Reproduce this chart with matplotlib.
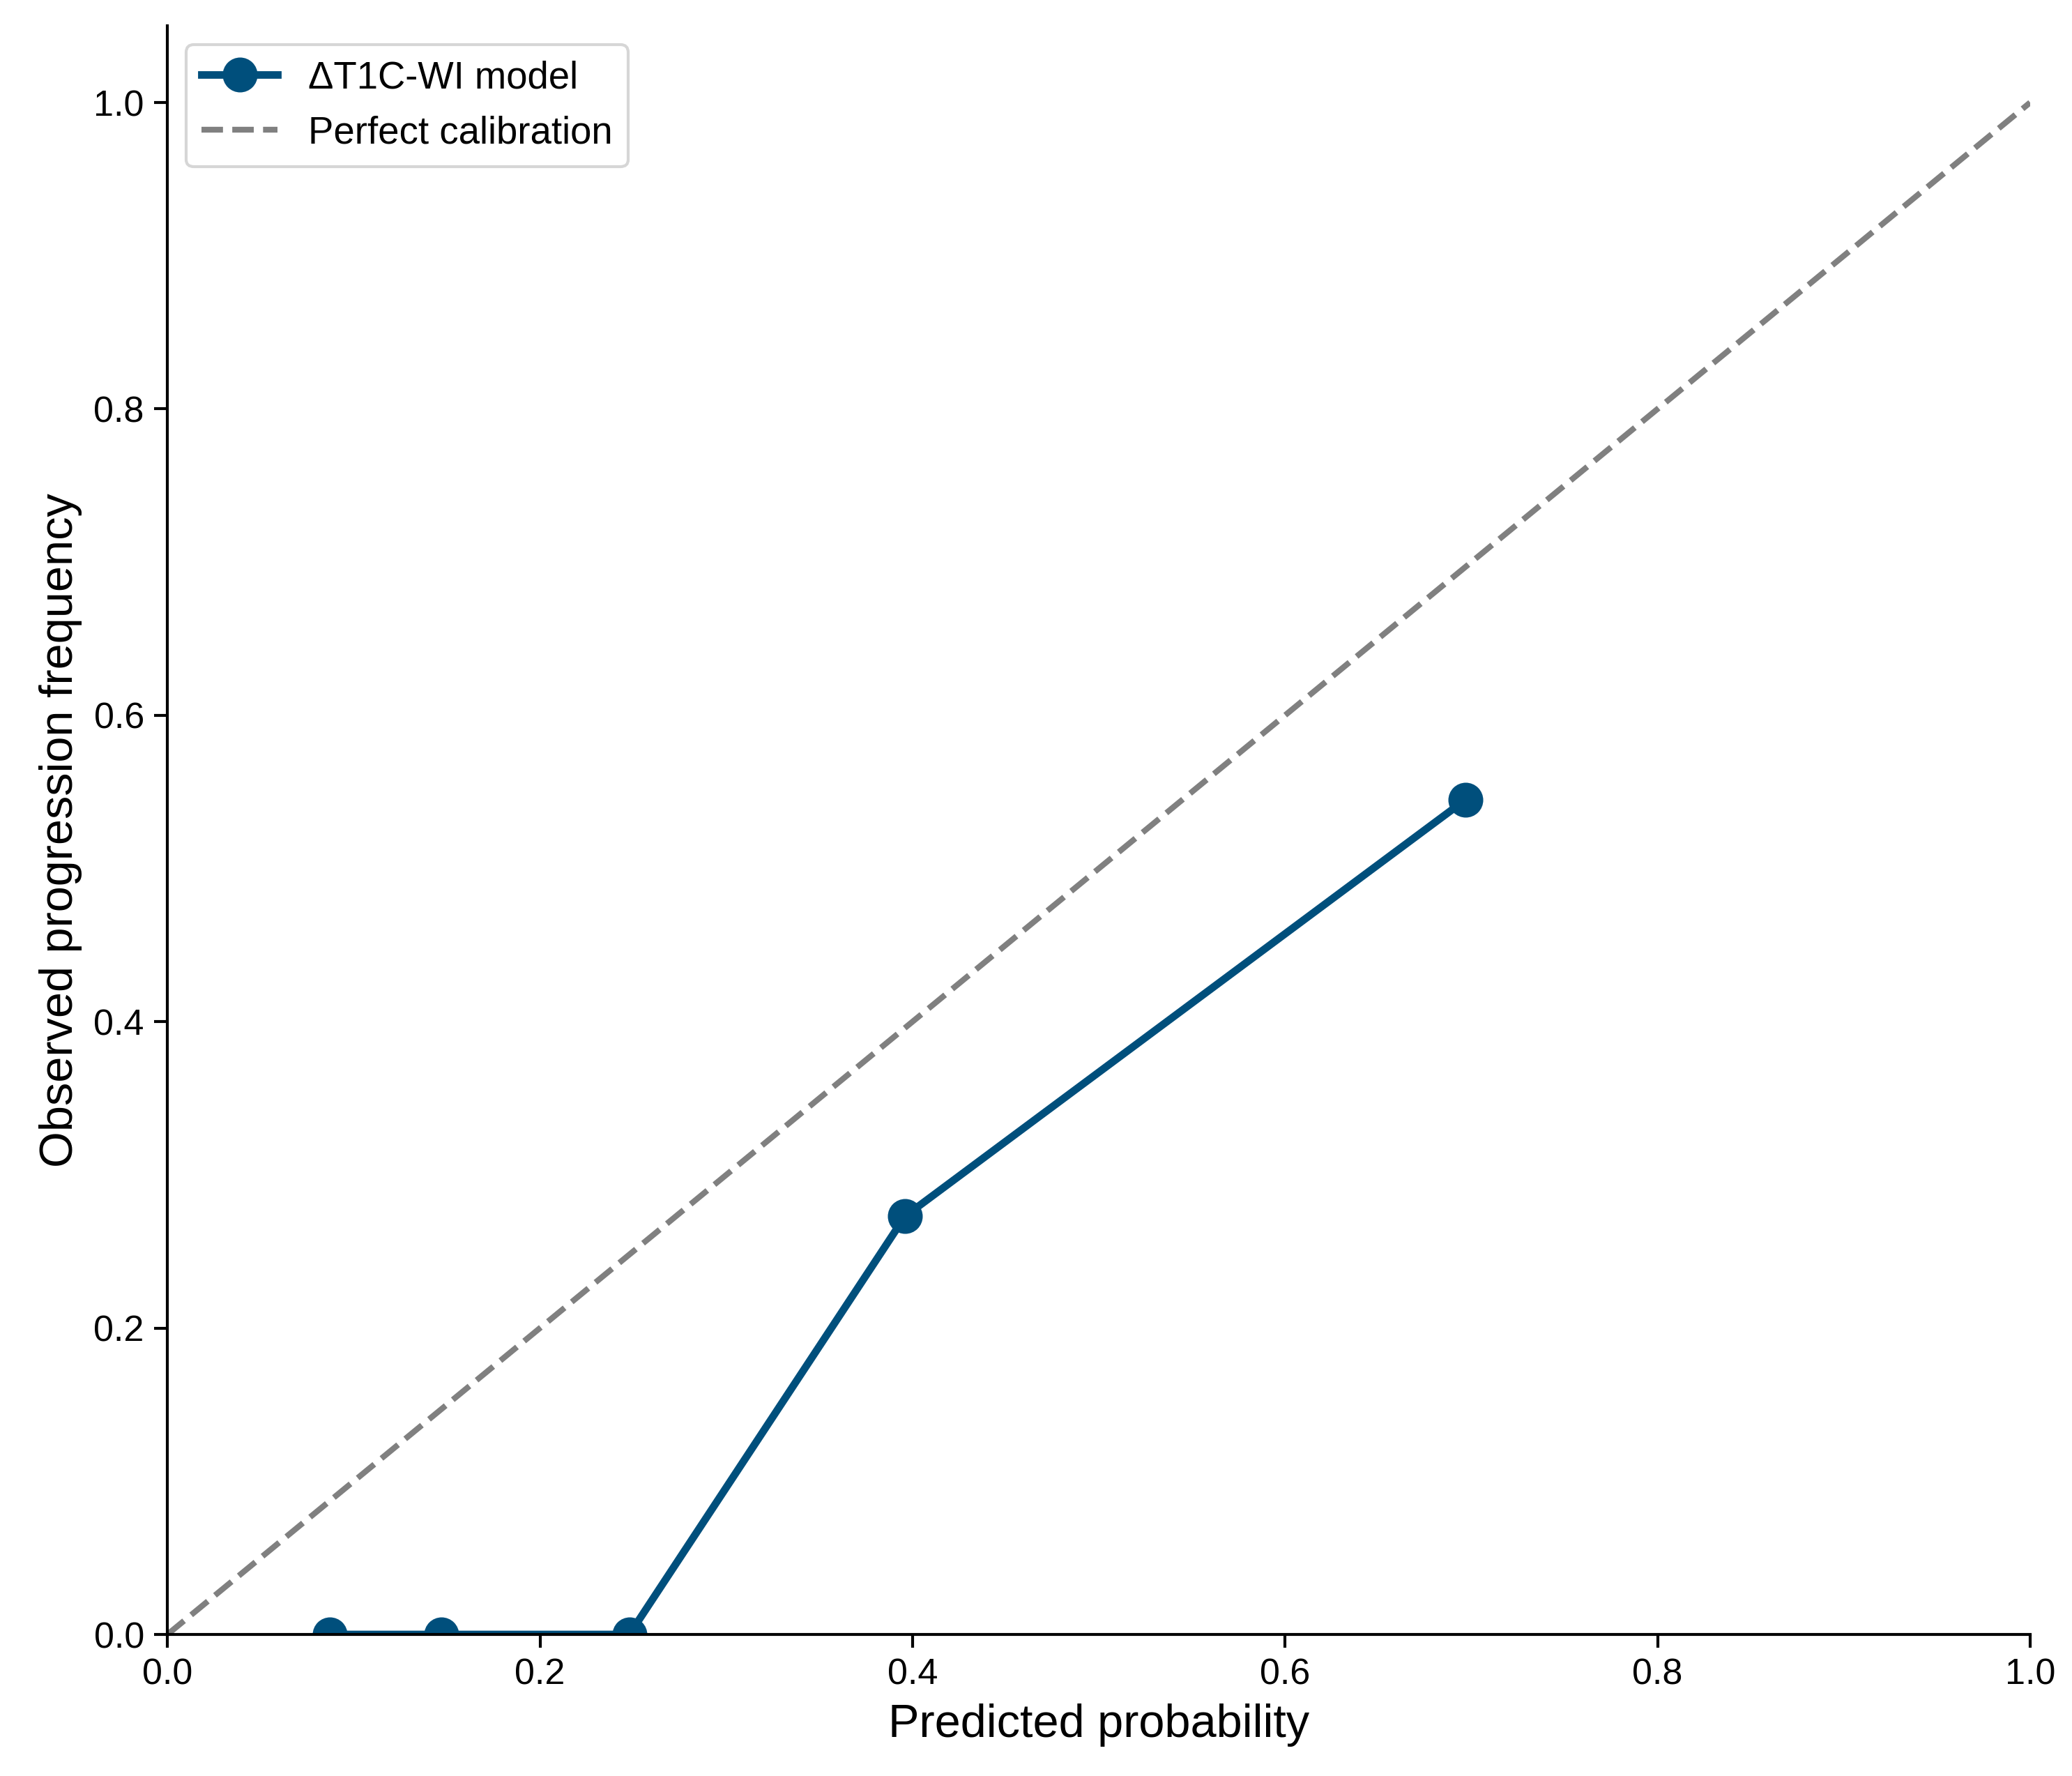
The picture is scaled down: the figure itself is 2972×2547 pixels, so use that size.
import matplotlib
matplotlib.use("Agg")
import matplotlib.pyplot as plt

plt.rcParams['font.family'] = ['Liberation Sans', 'DejaVu Sans']

# calibration bins
pred_prob = [0.087, 0.147, 0.248, 0.396, 0.697]
obs_freq = [0.0, 0.0, 0.0, 0.273, 0.545]
diag = [0.0, 1.0]

fig = plt.figure(figsize=(2972 / 300, 2547 / 300), dpi=300)
ax = fig.add_axes([0.0808, 0.0797, 0.899, 0.9057])

ax.plot(pred_prob, obs_freq, marker='o', color='#004f7c', linewidth=2.6,
        markersize=11, label='\u0394T1C-WI model')
ax.plot(diag, diag, linestyle='--', color='#808080', linewidth=2,
        label='Perfect calibration')

ax.set_xlim(0, 1.0)
ax.set_ylim(0, 1.05)
ax.set_xticks([0.0, 0.2, 0.4, 0.6, 0.8, 1.0])
ax.set_yticks([0.0, 0.2, 0.4, 0.6, 0.8, 1.0])
ax.tick_params(labelsize=12.5, length=4.5, width=1.0)
ax.set_xlabel('Predicted probability', fontsize=16)
ax.set_ylabel('Observed progression frequency', fontsize=16)
ax.spines['top'].set_visible(False)
ax.spines['right'].set_visible(False)
for s in ('left', 'bottom'):
    ax.spines[s].set_linewidth(1.0)
ax.legend(loc='upper left', fontsize=13.1)

fig.savefig('out.png', dpi=300)
